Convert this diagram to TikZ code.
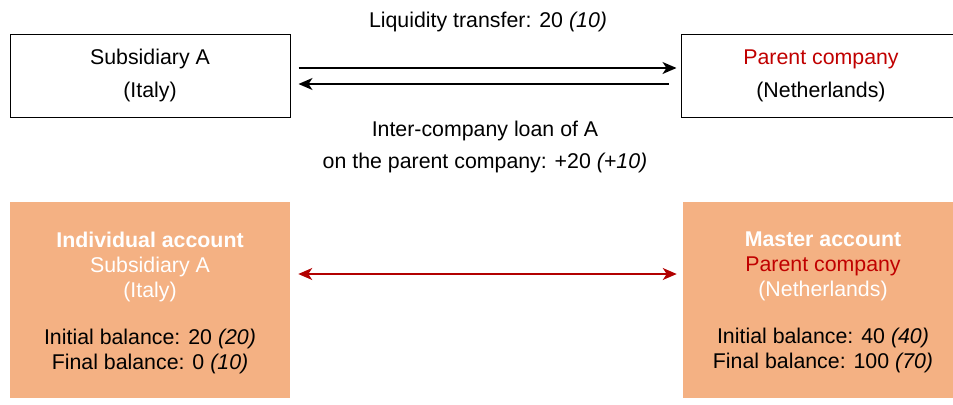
\documentclass[tikz,border=0pt]{standalone}
\usepackage{fontspec}
\setmainfont{Liberation Sans}
\usepackage{tikz}
\usepackage{xcolor}
\usetikzlibrary{arrows.meta}

\definecolor{accorange}{HTML}{F4B183}
\definecolor{parentred}{HTML}{C00000}
\definecolor{linkred}{HTML}{B20000}

\begin{document}
\begin{tikzpicture}[x=0.75pt,y=-0.75pt,
        font=\fontsize{16}{19}\selectfont,
        entity/.style={draw=black,line width=0.75pt,minimum width=210pt,minimum height=62.25pt,inner sep=0pt,align=center,font=\fontsize{16}{24.75}\selectfont},
        account/.style={fill=accorange,minimum width=210pt,minimum height=147pt,inner sep=0pt,align=center,font=\fontsize{16}{18.75}\selectfont},
        flow/.style={line width=1pt,-{Stealth[length=10.5pt,width=9pt,inset=3pt]}},
        link/.style={line width=1pt,linkred,{Stealth[length=10.5pt,width=9pt,inset=3pt]}-{Stealth[length=10.5pt,width=9pt,inset=3pt]}}]
        \useasboundingbox (0,0) rectangle (953,404);

        % Companies
        \node[entity] (sub) at (150,75.5) {Subsidiary A\\(Italy)};
        \node[entity] (par) at (821,75.5) {\textcolor{parentred}{Parent company}\\(Netherlands)};

        % Liquidity transfer and loan
        \draw[flow] ([shift={(8,-7.5)}]sub.east) -- ([shift={(-4,-7.5)}]par.west);
        \draw[flow] ([shift={(-12,8.5)}]par.west) -- ([shift={(8,8.5)}]sub.east);
        \node (transfer) at (488,22) {Liquidity transfer: 20 \textit{(10)}};
        \node[align=center,font=\fontsize{16}{24}\selectfont] (loan) at (485,147) {Inter-company loan of A\\on the parent company: +20 \textit{(+10)}};

        % Accounts
        \node[account] (indiv) at (150,300) {};
        \node[align=center,font=\fontsize{16}{18.75}\selectfont] (indivtext) at (150,302.5) {\textcolor{white}{\textbf{Individual account}}\\\textcolor{white}{Subsidiary A}\\\textcolor{white}{(Italy)}\\[16.5pt]Initial balance: 20 \textit{(20)}\\Final balance: 0 \textit{(10)}};
        \node[account] (master) at (823,300) {};
        \node[align=center,font=\fontsize{16}{18.75}\selectfont] (mastertext) at (823,302.5) {\textcolor{white}{\textbf{Master account}}\\\textcolor{parentred}{Parent company}\\\textcolor{white}{(Netherlands)}\\[16.5pt]Initial balance: 40 \textit{(40)}\\Final balance: 100 \textit{(70)}};
        \draw[link] ([shift={(8,-26)}]indiv.east) -- ([shift={(-6,-26)}]master.west);
    \end{tikzpicture}
\end{document}
